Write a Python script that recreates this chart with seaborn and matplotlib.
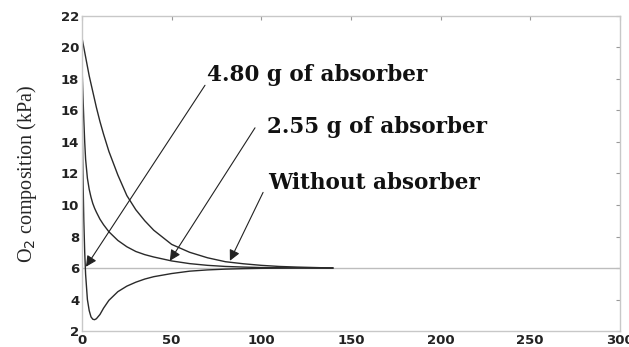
import numpy as np
import pandas as pd
import matplotlib
matplotlib.use("Agg")
import matplotlib.pyplot as plt
import seaborn as sns

# time (min) and O2 composition (kPa)
time_min = [0, 0.5, 1, 1.5, 2, 3, 4, 5, 6, 7, 8, 10, 12, 15, 20, 25, 30, 35,
            40, 50, 60, 70, 80, 90, 100, 110, 120, 130, 140]
o2_without = [20.6, 20.3, 20.0, 19.7, 19.4, 18.8, 18.2, 17.7, 17.2, 16.7, 16.2,
              15.3, 14.5, 13.4, 11.9, 10.6, 9.7, 9.0, 8.4, 7.5, 7.0, 6.65,
              6.4, 6.27, 6.17, 6.1, 6.06, 6.03, 6.0]
o2_255g = [18.8, 17.0, 15.4, 14.0, 12.9, 11.7, 11.0, 10.5, 10.1, 9.8, 9.55,
           9.1, 8.75, 8.3, 7.75, 7.35, 7.05, 6.85, 6.7, 6.45, 6.28, 6.17,
           6.1, 6.06, 6.03, 6.02, 6.01, 6.0, 6.0]
o2_480g = [16.2, 12.0, 9.0, 7.0, 5.6, 4.0, 3.3, 2.9, 2.75, 2.72, 2.78, 3.05,
           3.45, 3.95, 4.5, 4.85, 5.1, 5.3, 5.45, 5.65, 5.8, 5.88, 5.93,
           5.96, 5.98, 5.99, 6.0, 6.0, 6.0]
equilibrium = 6.0

labels = ["4.80 g of absorber", "2.55 g of absorber", "Without absorber"]
label_xy = [(69.7, 17.9), (103.2, 14.6), (103.7, 11.0)]
tail_xy = [(68.6, 17.6), (96.5, 14.9), (101.0, 10.8)]
head_xy = [(2.2, 6.08), (49.0, 6.46), (82.5, 6.46)]

df = pd.DataFrame({
    "t": time_min * 3,
    "o2": o2_without + o2_255g + o2_480g,
    "case": ["without"] * len(time_min) + ["2.55"] * len(time_min) + ["4.80"] * len(time_min),
})

sns.set_style("white")
fig = plt.figure(figsize=(6.29, 3.47), dpi=100)
ax = fig.add_axes([0.1304, 0.046, 0.855, 0.908])

ax.axhline(equilibrium, color="#bdbdbd", lw=1.0, zorder=1)
sns.lineplot(data=df, x="t", y="o2", units="case", estimator=None,
             color="#2a2a2a", lw=1.0, ax=ax, legend=False, zorder=2)

ax.set_xlim(0, 300)
ax.set_ylim(2, 22)
ax.set_xticks(np.arange(0, 301, 50))
ax.set_yticks(np.arange(2, 23, 2))
ax.set_xlabel("")
ax.set_ylabel("O$_2$ composition (kPa)", family="Liberation Serif",
              fontsize=14.5, labelpad=16)

for s in ax.spines.values():
    s.set_color("#c8c8c8")
    s.set_linewidth(1.0)
ax.tick_params(direction="in", length=3, width=0.8, color="#999999",
               top=True, right=True, labelsize=9.5, pad=2)
for lab in ax.get_xticklabels() + ax.get_yticklabels():
    lab.set_fontweight("bold")
    lab.set_family("DejaVu Sans")
    lab.set_color("#222222")

for txt, (lx, ly), tail, head in zip(labels, label_xy, tail_xy, head_xy):
    ax.text(lx, ly, txt, family="DejaVu Serif", fontweight="bold",
            fontsize=15.5, va="baseline", ha="left", color="#111111")
    ax.annotate("", xy=head, xytext=tail,
                arrowprops=dict(arrowstyle="-|>", color="#222222", lw=0.8,
                                mutation_scale=16, shrinkA=0, shrinkB=0))

fig.savefig("out.png", dpi=100, facecolor="white")
